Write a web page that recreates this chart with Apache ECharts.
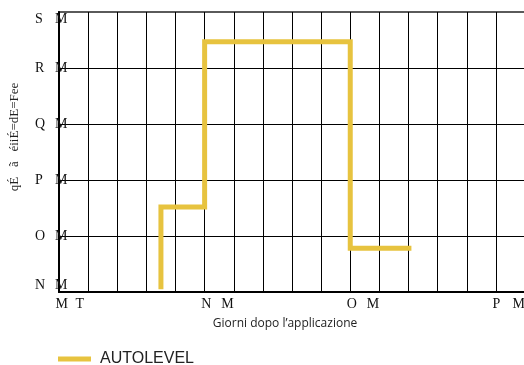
<!DOCTYPE html>
<html>
<head>
<meta charset="utf-8">
<script src="https://cdn.jsdelivr.net/npm/echarts@6/dist/echarts.min.js"></script>
<style>html,body{margin:0;padding:0;background:#fff;}#c{width:524px;height:365px;}</style>
</head>
<body>
<div id="c"></div>
<script>
// data
const seriesName = 'AUTOLEVEL';
const days = [7, 7, 10, 10, 20, 20, 24.2];
const values = [10.5, 25.2, 25.2, 54.7, 54.7, 17.8, 17.8];
const xTickValues = [0, 10, 20, 30];
const xTickLabels = ['M T', 'N M', 'O M', 'P M'];
const yTickValues = [10, 20, 30, 40, 50, 60];
const yTickLabels = ['N M', 'O M', 'P M', 'Q M', 'R M', 'S M'];
const xTitle = 'Giorni dopo l\u2019applicazione';
const yTitle = 'q\u00C9   \u00E3   \u00E9ii\u00C9=dE=Fee';

const serif = 'Liberation Serif';
const richStyles = {
  a: {width: 20, align: 'left', fontFamily: serif, fontSize: 14, color: '#111'},
  b: {width: 13, align: 'left', fontFamily: serif, fontSize: 14, color: '#111'}
};
function toRich(s) {
  const p = s.split(' ');
  return '{a|' + p[0] + '}{b|' + p[1] + '}';
}

const chart = echarts.init(document.getElementById('c'), null, {renderer: 'canvas'});
chart.setOption({
  animation: false,
  grid: {left: 59, right: -1, top: 12, bottom: 73, show: true, borderColor: '#5a5a5a', borderWidth: 2,
         containLabel: false, outerBoundsMode: 'none'},
  legend: {
    data: [seriesName], left: 53, top: 346, icon: 'rect', itemWidth: 33, itemHeight: 5,
    textStyle: {fontFamily: 'Liberation Sans', fontSize: 16, color: '#222', padding: [0, 0, 0, 4]}
  },
  xAxis: {
    type: 'value', min: 0, max: 32, interval: 2,
    name: xTitle, nameLocation: 'middle', nameGap: 26,
    nameTextStyle: {fontFamily: 'Open Sans', fontSize: 12, color: '#222', padding: [0, 14, 0, 0]},
    axisLine: {show: true, lineStyle: {color: '#000', width: 2}},
    axisTick: {show: false},
    splitLine: {show: true, lineStyle: {color: '#000', width: 1}},
    axisLabel: {
      margin: 5, align: 'center', padding: [0, 0, 0, 26], rich: richStyles,
      formatter: function (v) {
        const i = xTickValues.indexOf(v);
        return i >= 0 ? toRich(xTickLabels[i]) : '';
      }
    }
  },
  yAxis: {
    type: 'value', min: 10, max: 60, interval: 10,
    name: yTitle, nameLocation: 'middle', nameRotate: 90, nameGap: 38,
    nameTextStyle: {fontFamily: serif, fontSize: 13, color: '#222', padding: [0, 0, 0, 30]},
    axisLine: {show: true, lineStyle: {color: '#000', width: 2}},
    axisTick: {show: false},
    splitLine: {show: true, lineStyle: {color: ['#000', '#000', '#000', '#000', '#000', '#5a5a5a'], width: 1}},
    axisLabel: {
      margin: -9, rich: richStyles,
      verticalAlignMinLabel: 'bottom', verticalAlignMaxLabel: 'top',
      formatter: function (v) {
        const i = yTickValues.indexOf(v);
        return i >= 0 ? toRich(yTickLabels[i]) : '';
      }
    }
  },
  series: [{
    name: seriesName, type: 'line', symbol: 'none',
    data: days.map((d, i) => [d, values[i]]),
    lineStyle: {color: '#E7C33F', width: 5, join: 'miter', cap: 'butt'},
    itemStyle: {color: '#E7C33F'}
  }]
});
</script>
</body>
</html>
